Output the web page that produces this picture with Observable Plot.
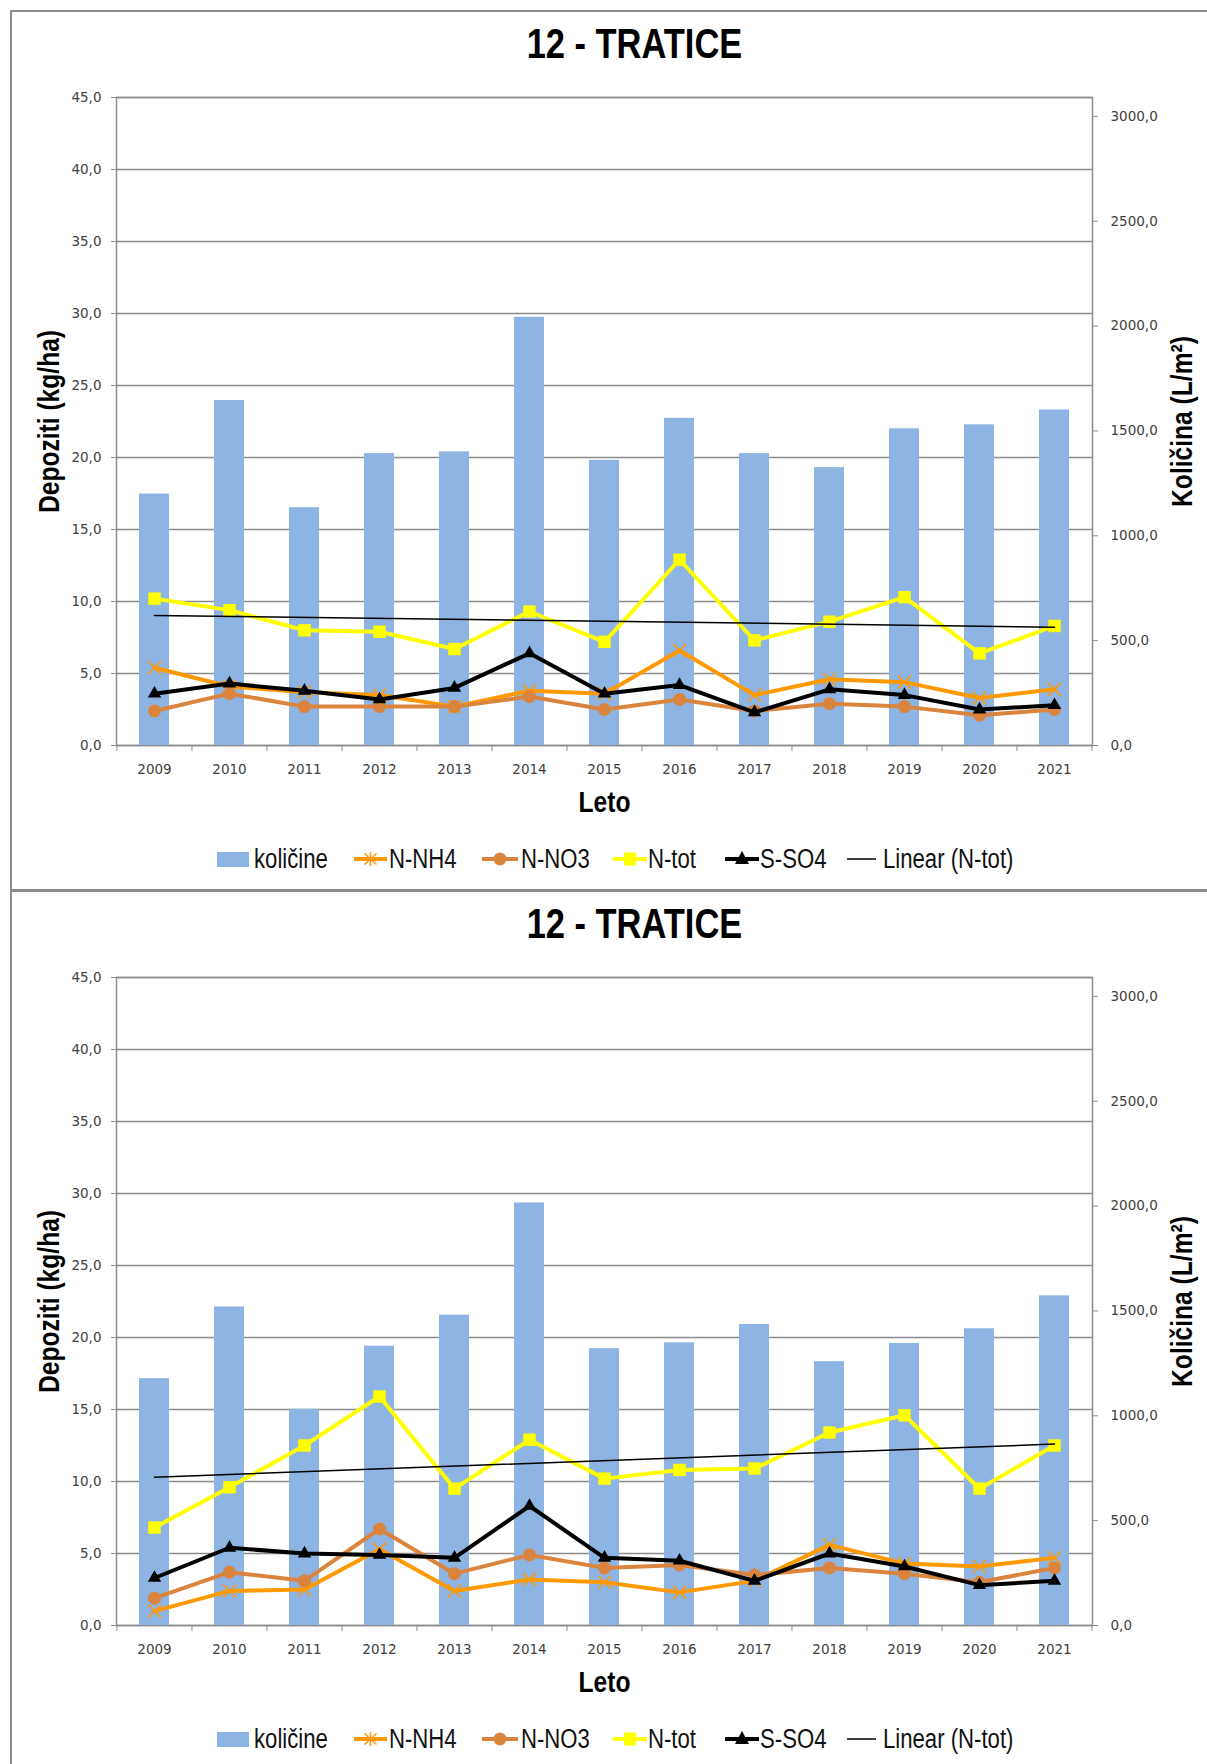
<!DOCTYPE html>
<html>
<head>
<meta charset="utf-8">
<script src="https://cdn.jsdelivr.net/npm/d3@7"></script>
<script src="https://cdn.jsdelivr.net/npm/@observablehq/plot@0.6"></script>
<style>
  html, body { margin: 0; padding: 0; background: #fff; }
  body { width: 1207px; height: 1764px; overflow: hidden; position: relative; }
  .block { position: absolute; left: 0; width: 1207px; height: 880px; }
  .frame { position: absolute; left: 10px; top: 10px; width: 1400px; height: 881px; border: 2px solid #8c8c8c; box-sizing: border-box; }
  .title { position: absolute; left: 0; width: 1268px; top: 20px; line-height: 42px; text-align: center; color: #000; }
  .title span { display: inline-block; transform: scaleX(0.82); transform-origin: center;
                font: bold 42px "Liberation Sans", Arial, sans-serif; }
  .leg { position: absolute; height: 30px; display: flex; align-items: center; white-space: nowrap;
         font: 27px "Liberation Sans", Arial, sans-serif; color: #111; }
  .leg span { display: inline-block; transform: scaleX(0.82); transform-origin: left center; }
  .leg svg { display: block; }
</style>
</head>
<body>
<script>
// ---------- data ----------
const years = ["2009","2010","2011","2012","2013","2014","2015","2016","2017","2018","2019","2020","2021"];
const chartTitle = "12 - TRATICE";
const yLabelLeft = "Depoziti (kg/ha)";
const yLabelRight = "Količina (L/m²)";
const xLabel = "Leto";
const seriesNames = ["količine", "N-NH4", "N-NO3", "N-tot", "S-SO4", "Linear (N-tot)"];
const leftTicks = [0, 5, 10, 15, 20, 25, 30, 35, 40, 45];
const rightTicks = [0, 500, 1000, 1500, 2000, 2500, 3000];

// chart 1 (top)
const kolicine1 = [1199, 1645, 1134, 1392, 1400, 2042, 1360, 1560, 1392, 1325, 1510, 1529, 1600];
const nNH4_1   = [5.4, 4.1, 3.7, 3.5, 2.7, 3.8, 3.6, 6.6, 3.5, 4.6, 4.4, 3.3, 3.9];
const nNO3_1   = [2.4, 3.6, 2.7, 2.7, 2.7, 3.4, 2.5, 3.2, 2.4, 2.9, 2.7, 2.1, 2.5];
const nTot_1   = [10.2, 9.4, 8.0, 7.9, 6.7, 9.3, 7.2, 12.9, 7.3, 8.6, 10.3, 6.4, 8.3];
const sSO4_1   = [3.6, 4.3, 3.8, 3.2, 4.0, 6.4, 3.6, 4.2, 2.3, 3.9, 3.5, 2.5, 2.8];
const trend_1  = [9.03, 8.22];   // Linear (N-tot) at 2009 and 2021

// chart 2 (bottom)
const kolicine2 = [1177, 1519, 1031, 1332, 1480, 2015, 1320, 1348, 1435, 1258, 1345, 1415, 1572];
const nNH4_2   = [1.0, 2.4, 2.5, 5.3, 2.4, 3.2, 3.0, 2.3, 3.1, 5.6, 4.3, 4.1, 4.7];
const nNO3_2   = [1.9, 3.7, 3.1, 6.7, 3.6, 4.9, 4.0, 4.2, 3.5, 4.0, 3.6, 3.0, 4.0];
const nTot_2   = [6.8, 9.6, 12.5, 15.9, 9.5, 12.9, 10.2, 10.8, 10.9, 13.4, 14.6, 9.5, 12.5];
const sSO4_2   = [3.3, 5.4, 5.0, 4.9, 4.7, 8.3, 4.7, 4.5, 3.1, 5.0, 4.1, 2.8, 3.1];
const trend_2  = [10.3, 12.6];

// ---------- styling ----------
const C = { bar: "#8EB4E3", nh4: "#FF9900", no3: "#DB843D", ntot: "#FFFF00", so4: "#000000", trend: "#000000", grid: "#8c8c8c" };
const TITLEFONT = '"Liberation Sans", Arial, sans-serif';
const SQ = 0.82; // horizontal condensing of the title fonts
const W = 1207, H = 770, ML = 116, MR = 115, MT = 37, MB = 85;
const BW = (W - ML - MR) / years.length;
const fmt = d => d.toFixed(1).replace(".", ",");
const xScale = { type: "band", domain: years, paddingInner: 0.6, paddingOuter: 0.3, label: null };
const baseStyle = { background: "transparent", fontFamily: '"DejaVu Sans", sans-serif', fontSize: "13.5px", color: "#404040", overflow: "visible" };
const dims = { width: W, height: H, marginLeft: ML, marginRight: MR, marginTop: MT, marginBottom: MB };
const labelOpts = { text: d => d, textAnchor: "middle", lineAnchor: "middle", fontSize: 30, fontWeight: "bold", fontFamily: TITLEFONT, fill: "#000" };

function squeeze(svg, labels) {
  svg.querySelectorAll("text").forEach(t => {
    if (!labels.includes(t.textContent)) return;
    const tr = t.getAttribute("transform");
    if (t.hasAttribute("x")) t.setAttribute("x", +t.getAttribute("x") / SQ);
    t.setAttribute("transform", (tr ? tr + " " : "") + `scale(${SQ},1)`);
  });
}

function buildChart(offsetTop, kol, nh4, no3, ntot, so4, trend) {
  const block = document.createElement("div");
  block.className = "block";
  block.style.top = offsetTop + "px";
  document.body.appendChild(block);

  const frame = document.createElement("div");
  frame.className = "frame";
  block.appendChild(frame);

  const title = document.createElement("div");
  title.className = "title";
  const ts = document.createElement("span");
  ts.textContent = chartTitle;
  title.appendChild(ts);
  block.appendChild(title);

  const table = years.map((y, i) => ({ year: y, kol: kol[i], nh4: nh4[i], no3: no3[i], ntot: ntot[i], so4: so4[i] }));
  const trendTable = [{ year: years[0], v: trend[0] }, { year: years[years.length - 1], v: trend[1] }];

  // layer A: grid, left axis, x axis, axis titles
  const A = Plot.plot({
    ...dims, style: baseStyle,
    x: xScale,
    y: { domain: [0, 45], label: null },
    marks: [
      Plot.gridY(leftTicks, { stroke: C.grid, strokeOpacity: 1, strokeWidth: 1.5 }),
      Plot.frame({ stroke: C.grid, strokeWidth: 1.5 }),
      Plot.axisY(leftTicks, { tickSize: 5, tickPadding: 10, tickFormat: fmt, stroke: C.grid, label: null }),
      Plot.axisX({ tickSize: 0, tickPadding: 19, label: null }),
      Plot.axisX(years, { tickSize: 6, tickFormat: () => "", dx: -BW / 2, stroke: C.grid, label: null }),
      Plot.axisX([years[years.length - 1]], { tickSize: 6, tickFormat: () => "", dx: BW / 2, stroke: C.grid, label: null }),
      Plot.text([yLabelLeft], { ...labelOpts, frameAnchor: "left", dx: -67, rotate: -90 }),
      Plot.text([xLabel], { ...labelOpts, frameAnchor: "bottom", dy: 57 })
    ]
  });
  squeeze(A, [yLabelLeft, xLabel]);

  // layer B: bars on the right axis
  const B = Plot.plot({
    ...dims, style: baseStyle,
    x: { ...xScale, axis: null },
    y: { domain: [0, 3090], label: null },
    marks: [
      Plot.barY(table, { x: "year", y: "kol", fill: C.bar }),
      Plot.axisY(rightTicks, { anchor: "right", tickSize: 5, tickPadding: 13, tickFormat: fmt, stroke: C.grid, label: null }),
      Plot.text([yLabelRight], { ...labelOpts, frameAnchor: "right", dx: 90, rotate: -90 })
    ]
  });
  squeeze(B, [yLabelRight]);

  // layer C: lines
  const lw = 4;
  const L = Plot.plot({
    ...dims, style: baseStyle,
    x: { ...xScale, axis: null },
    y: { domain: [0, 45], axis: null },
    marks: [
      Plot.line(table, { x: "year", y: "nh4", stroke: C.nh4, strokeWidth: lw, strokeLinejoin: "round" }),
      Plot.dot(table, { x: "year", y: "nh4", symbol: "times", r: 6, stroke: C.nh4, strokeWidth: 1.5 }),
      Plot.line(table, { x: "year", y: "no3", stroke: C.no3, strokeWidth: lw, strokeLinejoin: "round" }),
      Plot.dot(table, { x: "year", y: "no3", symbol: "circle", r: 6.5, fill: C.no3 }),
      Plot.line(table, { x: "year", y: "ntot", stroke: C.ntot, strokeWidth: lw, strokeLinejoin: "round" }),
      Plot.dot(table, { x: "year", y: "ntot", symbol: "square", r: 7, fill: C.ntot }),
      Plot.line(table, { x: "year", y: "so4", stroke: C.so4, strokeWidth: lw, strokeLinejoin: "round" }),
      Plot.dot(table, { x: "year", y: "so4", symbol: "triangle", r: 5, fill: C.so4 }),
      Plot.line(trendTable, { x: "year", y: "v", stroke: C.trend, strokeWidth: 1.5 })
    ]
  });

  for (const svg of [A, B, L]) {
    svg.style.position = "absolute";
    svg.style.left = "0px";
    svg.style.top = "60px";
    block.appendChild(svg);
  }

  // legend
  const legendY = 859;
  const items = [
    { x: 217, w: 32, gap: 5, sym: `<rect x="0" y="3" width="32" height="15" fill="${C.bar}"/>` },
    { x: 354, w: 33, gap: 2, sym: `<line x1="0" y1="10" x2="33" y2="10" stroke="${C.nh4}" stroke-width="4"/><path d="M10.5,4.5L22.5,15.5M10.5,15.5L22.5,4.5M16.5,3V17" stroke="${C.nh4}" stroke-width="1.5"/>` },
    { x: 482, w: 36, gap: 3, sym: `<line x1="0" y1="10" x2="36" y2="10" stroke="${C.no3}" stroke-width="4"/><circle cx="18" cy="10" r="6.5" fill="${C.no3}"/>` },
    { x: 613, w: 34, gap: 1, sym: `<line x1="0" y1="10" x2="34" y2="10" stroke="${C.ntot}" stroke-width="4"/><rect x="11" y="3.5" width="12" height="13" fill="${C.ntot}"/>` },
    { x: 725, w: 34, gap: 1, sym: `<line x1="0" y1="10" x2="34" y2="10" stroke="#000" stroke-width="4"/><path d="M17,2L24,15H10Z" fill="#000"/>` },
    { x: 847, w: 29, gap: 7, sym: `<line x1="0" y1="10" x2="29" y2="10" stroke="#000" stroke-width="1.5"/>` }
  ];
  items.forEach((it, i) => {
    const d = document.createElement("div");
    d.className = "leg";
    d.style.left = it.x + "px";
    d.style.top = (legendY - 15) + "px";
    d.innerHTML = `<svg width="${it.w}" height="20" viewBox="0 0 ${it.w} 20">${it.sym}</svg><span style="margin-left:${it.gap}px">${seriesNames[i]}</span>`;
    block.appendChild(d);
  });
}

buildChart(0, kolicine1, nNH4_1, nNO3_1, nTot_1, sSO4_1, trend_1);
buildChart(880, kolicine2, nNH4_2, nNO3_2, nTot_2, sSO4_2, trend_2);
</script>
</body>
</html>
